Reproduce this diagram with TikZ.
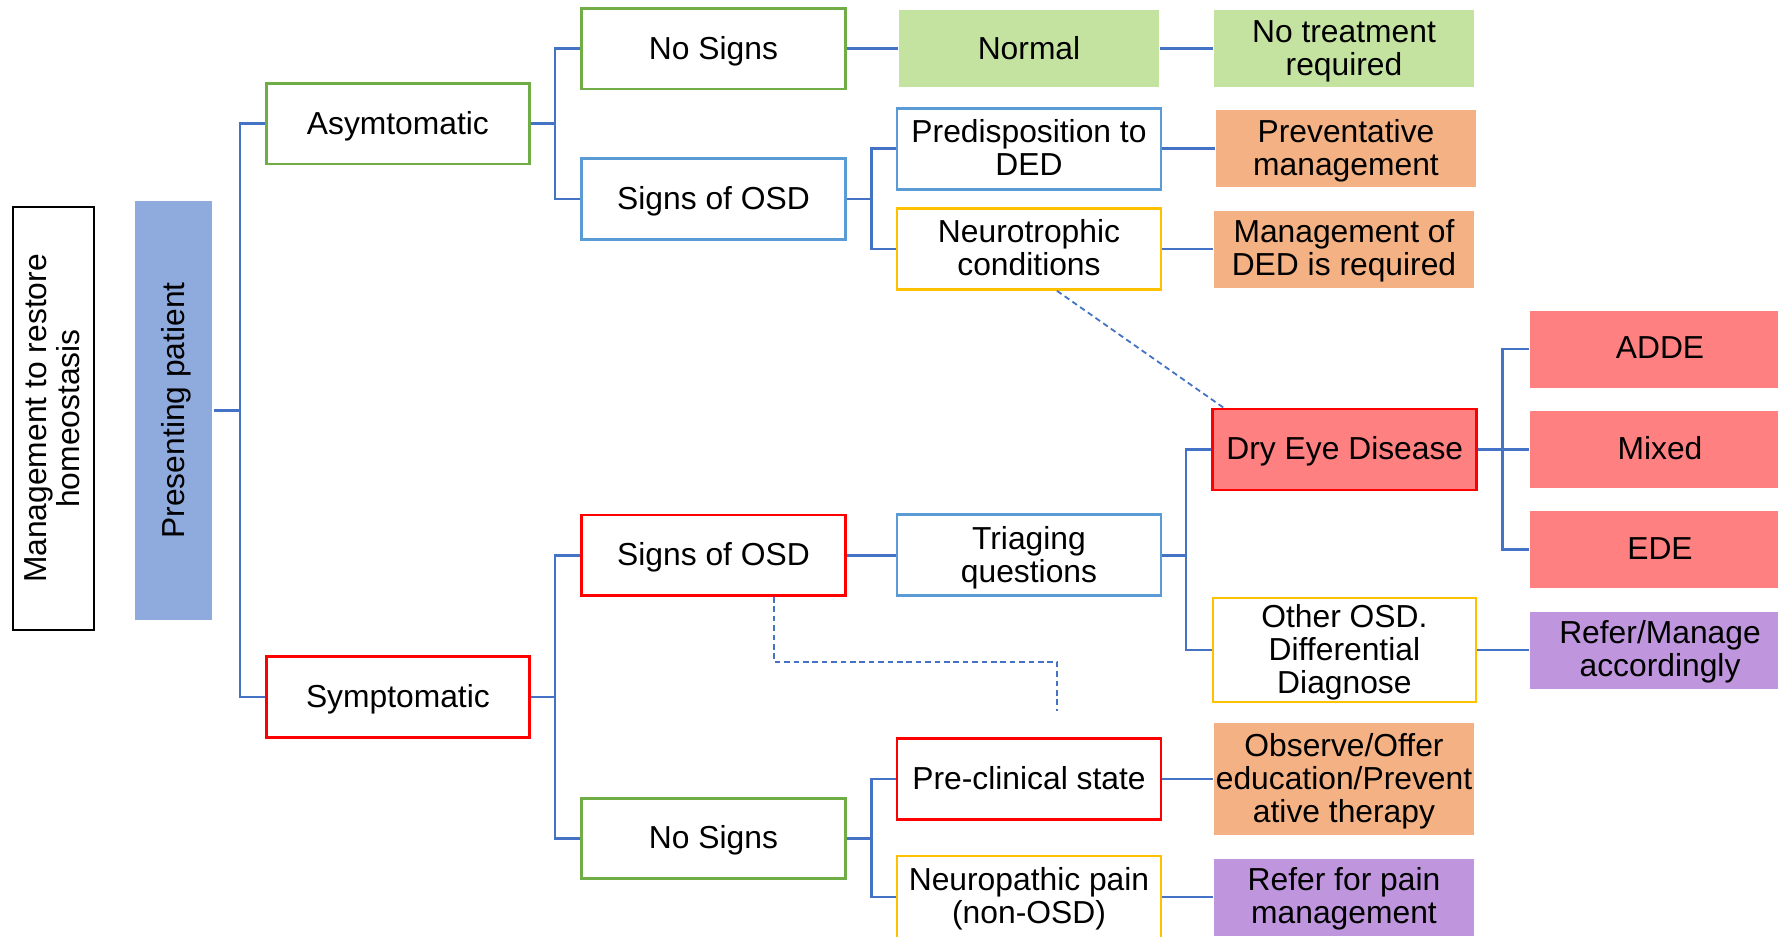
\documentclass[tikz,border=0pt]{standalone}
\usepackage{fontspec}
\setmainfont{Liberation Sans}
\definecolor{connc}{HTML}{4472C4}
\definecolor{gline}{HTML}{70AD47}
\definecolor{bline}{HTML}{5B9BD5}
\definecolor{yline}{HTML}{FFC000}
\definecolor{rline}{HTML}{FF0000}
\definecolor{gfill}{RGB}{197,227,160}
\definecolor{ofill}{HTML}{F4B183}
\definecolor{rfill}{HTML}{FF8080}
\definecolor{pfill}{HTML}{BF95DE}
\definecolor{ppfill}{HTML}{8FAADC}
\begin{document}
\begin{tikzpicture}[x=0.5pt,y=-0.5pt,
 box/.style={rectangle, inner sep=0pt, align=center, text depth=1.1pt, font=\fontsize{15.9pt}{16.5pt}\selectfont, line width=1.35pt},
 wbox/.style={box, draw=#1, fill=white},
 fbox/.style={box, fill=#1},
 sz/.style 2 args={minimum width=#1, minimum height=#2},
 conn/.style={draw=connc, line width=1.3pt},
 dashc/.style={draw=connc, line width=0.9pt, dash pattern=on 2.8pt off 1.9pt}]
\path[use as bounding box, clip] (0,0) rectangle (1778,937);
% column 0
\node[wbox=black, sz={211.5pt}{40.5pt}, rotate=90, line width=1.2pt] (mg) at (53.5,418.5) {Management to restore\\homeostasis};
\node[fbox=ppfill, sz={209.3pt}{38.7pt}, rotate=90] (pp) at (173.7,410.4) {Presenting patient};
% column 1
\node[wbox=gline, sz={131.5pt}{40.3pt}] (asym) at (397.9,123.7) {Asymtomatic};
\node[wbox=rline, sz={131.5pt}{40.3pt}] (symp) at (397.9,697) {Symptomatic};
% column 2
\node[wbox=gline, sz={132pt}{40.3pt}] (ns1) at (713.5,48.7) {No Signs};
\node[wbox=bline, sz={132pt}{40.3pt}] (so1) at (713.5,199) {Signs of OSD};
\node[wbox=rline, sz={132pt}{40.3pt}] (so2) at (713.5,555.3) {Signs of OSD};
\node[wbox=gline, sz={132pt}{40.3pt}] (ns2) at (713.5,838.5) {No Signs};
% column 3
\node[fbox=gfill, sz={130pt}{38.5pt}] (norm) at (1029,48.7) {Normal};
\node[wbox=bline, sz={132pt}{40.5pt}] (pre) at (1029,148.7) {Predisposition to\\DED};
\node[wbox=yline, sz={132pt}{40.5pt}] (neu) at (1029,249) {Neurotrophic\\conditions};
\node[wbox=bline, sz={132pt}{40.5pt}] (tri) at (1029,555.3) {Triaging\\questions};
\node[wbox=rline, sz={132pt}{40.5pt}] (pcs) at (1029,779) {Pre-clinical state};
\node[wbox=yline, sz={132pt}{41pt}] (npp) at (1029,897) {Neuropathic pain\\(non-OSD)};
% column 4
\node[fbox=gfill, sz={130pt}{38.5pt}] (ntr) at (1344,48.7) {No treatment\\required};
\node[fbox=ofill, sz={130pt}{38.5pt}] (prev) at (1346,148.7) {Preventative\\management};
\node[fbox=ofill, sz={130pt}{38.5pt}] (mded) at (1344,249) {Management of\\DED is required};
\node[box, draw=rline, fill=rfill, sz={132pt}{40.5pt}] (ded) at (1344.8,449.5) {Dry Eye Disease};
\node[wbox=yline, sz={131.5pt}{52pt}] (oth) at (1344.4,650) {Other OSD.\\Differential\\Diagnose};
\node[fbox=ofill, sz={130pt}{56.3pt}] (obs) at (1344,779) {Observe/Offer\\education/Prevent\\ative therapy};
\node[fbox=pfill, sz={130pt}{38.5pt}] (rfp) at (1344,897) {Refer for pain\\management};
% column 5
\node[fbox=rfill, sz={130pt}{38.5pt}] (adde) at (1660,349) {ADDE};
\node[fbox=rfill, sz={130pt}{38.5pt}] (mixed) at (1660,449.5) {Mixed};
\node[fbox=rfill, sz={130pt}{38.5pt}] (ede) at (1660,549.5) {EDE};
\node[fbox=pfill, sz={130pt}{38.5pt}] (rma) at (1660,650) {Refer/Manage\\accordingly};
% junctions
\coordinate (t1) at (240,410.4);
\coordinate (t2) at (555,123.7);
\coordinate (t3) at (555,697);
\coordinate (t4) at (871.4,199);
\coordinate (t5) at (1186,555.3);
\coordinate (t6) at (1502.5,449.5);
\coordinate (t7) at (871.3,838.5);
% connectors
\draw[conn] (pp.south) -- (t1);
\draw[conn] (asym.west) -| (t1) |- (symp.west);
\draw[conn] (asym.east) -- (t2);
\draw[conn] (ns1.west) -| (t2) |- (so1.west);
\draw[conn] (symp.east) -- (t3);
\draw[conn] (so2.west) -| (t3) |- (ns2.west);
\draw[conn] (ns1.east) -- (norm.west);
\draw[conn] (norm.east) -- (ntr.west);
\draw[conn] (so1.east) -- (t4);
\draw[conn] (pre.west) -| (t4) |- (neu.west);
\draw[conn] (pre.east) -- (prev.west);
\draw[conn] (neu.east) -- (mded.west);
\draw[conn] (so2.east) -- (tri.west);
\draw[conn] (tri.east) -- (t5);
\draw[conn] (ded.west) -| (t5) |- (oth.west);
\draw[conn] (ded.east) -- (t6);
\draw[conn] (adde.west) -| (t6) |- (ede.west);
\draw[conn] (t6) -- (mixed.west);
\draw[conn] (oth.east) -- (rma.west);
\draw[conn] (ns2.east) -- (t7);
\draw[conn] (pcs.west) -| (t7) |- (npp.west);
\draw[conn] (pcs.east) -- (obs.west);
\draw[conn] (npp.east) -- (rfp.west);
% dashed links
\draw[dashc] ([xshift=14pt]neu.south) -- ([xshift=6pt]ded.north west);
\coordinate (dk) at (1057,662);
\coordinate (de) at (1057,711);
\draw[dashc] ([xshift=30.25pt]so2.south) |- (dk) -- (de);
\end{tikzpicture}
\end{document}
